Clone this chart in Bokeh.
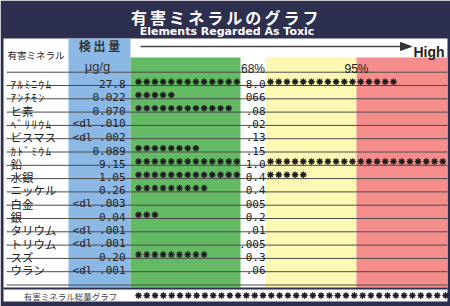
from bokeh.plotting import figure
from bokeh.models import Range1d
from bokeh.core.properties import value
from bokeh.embed import file_html
from bokeh.resources import INLINE

# ---------------- data ----------------
title_jp = "有害ミネラルのグラフ"
title_en = "Elements Regarded As Toxic"
name_header = "有害ミネラル"
value_header = ["検 出 量", "μg/g"]
minerals = ["ｱﾙﾐﾆｳﾑ", "ｱﾝﾁﾓﾝ", "ヒ素", "ﾍﾞﾘﾘｳﾑ", "ビスマス", "ｶﾄﾞﾐｳﾑ", "鉛", "水銀",
            "ニッケル", "白金", "銀", "タリウム", "トリウム", "スズ", "ウラン"]
measured = ["27.8", "0.022", "0.070", "<dl .010", "<dl .002", "0.089", "9.15", "1.05",
            "0.26", "<dl .003", "0.04", "<dl .001", "<dl .001", "0.20", "<dl .001"]
reference = ["8.0", "066", ".08", ".02", ".13", ".15", "1.0", "0.4",
             "0.4", "005", "0.2", ".01", ".005", "0.3", ".06"]
stars_low = [13, 5, 12, 0, 0, 8, 13, 13, 9, 0, 3, 0, 0, 9, 0]
stars_high = [16, 0, 0, 0, 0, 0, 22, 5, 0, 0, 0, 0, 0, 0, 0]
total_stars = 38
band_labels = ["68%", "95%"]
high_label = "High"
footer_label = "有害ミネラル総量グラフ"

# ---------------- layout ----------------
W, H = 450, 306
NAVY = "#2c2f4e"
BLUE = "#8cb8e6"
GREEN = "#64b964"
YELLOW = "#fdf8b4"
RED = "#f58d8d"
LINE = "#4a4a4a"
INK = "#222222"

X_IN0, X_IN1 = 3, 447
X_BLUE, X_GREEN, X_WHITE, X_YEL, X_RED = 68, 130, 240, 265, 356
Y_TITLE = 38
Y_BAND = 57
ROW_Y0, ROW_H = 71.7, 13.3
N_ROWS = len(minerals) + 1
Y_COLS_END = 287
Y_FOOT0, Y_FOOT1 = 289, 301
STAR_STEP = 8.2
STAR_X_LOW, STAR_X_HIGH = 138, 270
FOOT_STAR_STEP = 8.3
HALF_ADV = 7.0

JP = value("Noto Sans CJK JP")
MONO = value("DejaVu Sans Mono")
SANS = value("Liberation Sans")

p = figure(width=W, height=H, x_range=Range1d(0, W), y_range=Range1d(H, 0),
           output_backend="svg", toolbar_location=None,
           x_axis_location=None, y_axis_location=None, min_border=0)
p.grid.visible = False
p.outline_line_color = None
p.background_fill_color = "white"
p.border_fill_color = "white"

# backgrounds
p.quad(left=[0], right=[W], top=[0], bottom=[H], fill_color=NAVY, line_color=None)
p.quad(left=[X_IN0], right=[X_IN1], top=[Y_TITLE], bottom=[Y_FOOT1], fill_color="white", line_color=None)
p.quad(left=[X_BLUE], right=[X_GREEN], top=[Y_TITLE], bottom=[Y_COLS_END], fill_color=BLUE, line_color=None)
p.quad(left=[X_GREEN, X_YEL, X_RED], right=[X_WHITE, X_RED, X_IN1],
       top=[Y_BAND] * 3, bottom=[Y_COLS_END] * 3,
       fill_color=[GREEN, YELLOW, RED], line_color=None)
p.quad(left=[X_IN0], right=[X_IN1], top=[Y_COLS_END], bottom=[Y_FOOT0], fill_color=NAVY, line_color=None)

# row lines
ys = [ROW_Y0 + k * ROW_H for k in range(N_ROWS + 1)]
p.segment(x0=[6] * len(ys), x1=[X_IN1] * len(ys), y0=ys, y1=ys, line_color=LINE, line_width=1)

# title
tx = [138.5 + i * 19.06 for i in range(len(title_jp))]
p.text(x=tx, y=[16] * len(tx), text=list(title_jp), text_font=JP, text_font_size="16px",
       text_font_style="bold", text_color="white", text_align="center", text_baseline="middle")
p.text(x=[226.5], y=[30.5], text=[title_en], text_font=value("DejaVu Sans"), text_font_size="11px",
       text_font_style="bold", text_color="white", text_align="center", text_baseline="alphabetic")

# header
p.text(x=[7], y=[54], text=[name_header], text_font=JP, text_font_size="9.5px",
       text_color=INK, text_baseline="middle")
p.text(x=[99], y=[45], text=[value_header[0]], text_font=JP, text_font_size="12px",
       text_font_style="bold", text_color="#333333", text_align="center", text_baseline="middle")
p.text(x=[97], y=[66], text=[value_header[1]], text_font=SANS, text_font_size="13px",
       text_color="#333333", text_align="center", text_baseline="alphabetic")
p.segment(x0=[140], x1=[401], y0=[46], y1=[46], line_color="#444444", line_width=1.3)
p.patch(x=[400, 411, 400], y=[42, 46, 50], fill_color="#333333", line_color="#333333")
p.text(x=[413], y=[51.5], text=[high_label], text_font=SANS, text_font_size="14px",
       text_font_style="bold", text_color=INK, text_baseline="alphabetic")
p.text(x=[(X_WHITE + X_YEL) / 2, X_RED], y=[68.5, 68.5], text=band_labels, text_font=SANS,
       text_font_size="12px", text_color=INK, text_align="center", text_baseline="alphabetic")

# rows
base = [ROW_Y0 + (i + 1) * ROW_H for i in range(len(minerals))]
fx, fy, ft = [], [], []
hx, hy, ht = [], [], []
for i, m in enumerate(minerals):
    if all(ord(c) >= 0xFF61 for c in m):
        for k, c in enumerate(m):
            hx.append(10 + k * HALF_ADV); hy.append(base[i] - 1.5); ht.append(c)
    else:
        fx.append(10); fy.append(base[i] - 1.5); ft.append(m)
p.text(x=fx, y=fy, text=ft, text_font=JP, text_font_size="11.5px",
       text_color=INK, text_baseline="alphabetic")
p.text(x=hx, y=hy, text=ht, text_font=JP, text_font_size="11px",
       text_color=INK, text_baseline="alphabetic")
p.text(x=[125] * len(measured), y=[b - 1.5 for b in base], text=measured, text_font=MONO,
       text_font_size="11px", text_color=INK, text_align="right", text_baseline="alphabetic")
p.text(x=[265] * len(reference), y=[b - 1.5 for b in base], text=reference, text_font=MONO,
       text_font_size="11px", text_color=INK, text_align="right", text_baseline="alphabetic")

sx, sy = [], []
for i, (lo, hi) in enumerate(zip(stars_low, stars_high)):
    for k in range(lo):
        sx.append(STAR_X_LOW + k * STAR_STEP); sy.append(base[i] - 3.8)
    for k in range(hi):
        sx.append(STAR_X_HIGH + k * STAR_STEP); sy.append(base[i] - 3.8)
for k in range(total_stars):
    sx.append(STAR_X_LOW + k * FOOT_STAR_STEP); sy.append((Y_FOOT0 + Y_FOOT1) / 2)
p.scatter(x=sx, y=sy, marker="asterisk", size=6.5, line_color="#1e1e1e", line_width=1.4)

# footer
p.text(x=[70], y=[295], text=[footer_label], text_font=JP, text_font_size="8.5px",
       text_color="#444444", text_align="center", text_baseline="middle")

open("out.html", "w").write(file_html(p, INLINE))
